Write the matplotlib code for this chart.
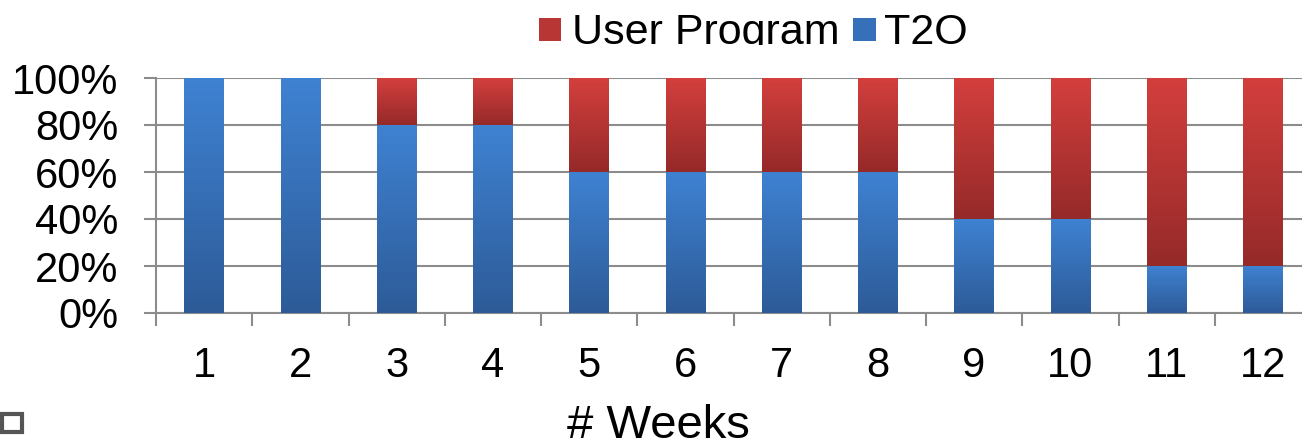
import numpy as np
import matplotlib
matplotlib.use("Agg")
from matplotlib import pyplot as plt
from matplotlib.patches import Rectangle

weeks = [1, 2, 3, 4, 5, 6, 7, 8, 9, 10, 11, 12]
t2o = [100, 100, 80, 80, 60, 60, 60, 60, 40, 40, 20, 20]
user_program = [0, 0, 20, 20, 40, 40, 40, 40, 60, 60, 80, 80]
y_ticks = [0, 20, 40, 60, 80, 100]

blue_top, blue_bottom = "#3f82d2", "#2d5b98"
red_top, red_bottom = "#d33f3d", "#952a29"

W, H = 1302, 442


def gradient_bar(ax, x, bottom, height, top_col, bot_col, width=0.41):
    if height <= 0:
        return
    c1 = np.array(matplotlib.colors.to_rgb(top_col))
    c2 = np.array(matplotlib.colors.to_rgb(bot_col))
    t = np.linspace(0, 1, 64)[:, None]
    img = (c1 * (1 - t) + c2 * t)[:, None, :]
    ax.imshow(img, extent=[x - width / 2, x + width / 2, bottom, bottom + height],
              aspect="auto", origin="upper", zorder=3, interpolation="bilinear")


def fig_rect(fig, x0, y0, x1, y1, **kw):
    # pixel coords, y from top
    r = Rectangle((x0 / W, 1 - y1 / H), (x1 - x0) / W, (y1 - y0) / H,
                  transform=fig.transFigure, **kw)
    fig.add_artist(r)
    return r


def main():
    plt.rcParams["font.family"] = ["Liberation Sans", "DejaVu Sans"]
    fig = plt.figure(figsize=(W / 100, H / 100), dpi=100)
    ax = fig.add_axes([156 / W, 1 - 313 / H, 1155 / W, 235 / H])

    for w, b, r in zip(weeks, t2o, user_program):
        gradient_bar(ax, w, 0, b, blue_top, blue_bottom)
        gradient_bar(ax, w, b, r, red_top, red_bottom)

    ax.set_xlim(0.5, 12.5)
    ax.set_ylim(0, 100)
    ax.set_yticks(y_ticks)
    ax.set_yticklabels([f"{v}%" for v in y_ticks])
    ax.set_xticks(weeks)
    ax.set_xticklabels([str(w) for w in weeks])
    ax.set_xticks(np.arange(0.5, 13, 1), minor=True)

    grid_col = "#8c8c8c"
    ax.yaxis.grid(True, color=grid_col, lw=1.5, zorder=1)
    ax.set_axisbelow(True)
    for s in ["top", "right"]:
        ax.spines[s].set_visible(False)
    for s in ["left", "bottom"]:
        ax.spines[s].set_color(grid_col)
        ax.spines[s].set_linewidth(1.5)

    ax.tick_params(axis="y", length=9, width=1.5, color=grid_col, labelsize=30, pad=18)
    ax.tick_params(axis="x", which="major", length=0, labelsize=30, pad=24)
    ax.tick_params(axis="x", which="minor", length=9, width=1.5, color=grid_col)

    # legend (top, clipped at the bottom like the source image)
    fig_rect(fig, 539, 18, 561, 41, facecolor="#b83634", edgecolor="none", zorder=5)
    fig.text(572 / W, 1 - 44 / H, "User Program", ha="left", va="baseline", fontsize=31, zorder=5)
    fig_rect(fig, 853, 18, 876, 41, facecolor="#3670b8", edgecolor="none", zorder=5)
    fig.text(884 / W, 1 - 44 / H, "T2O", ha="left", va="baseline", fontsize=31, zorder=5)
    fig_rect(fig, 500, 45, 1000, 74, facecolor="white", edgecolor="none", zorder=6)

    fig.text(567 / W, 1 - 438 / H, "# Weeks", ha="left", va="baseline", fontsize=34)

    fig_rect(fig, 2, 414, 22, 432, fill=False, edgecolor="#555555", lw=3, zorder=5)

    fig.savefig("out.png", dpi=100)


if __name__ == '__main__':
    main()
